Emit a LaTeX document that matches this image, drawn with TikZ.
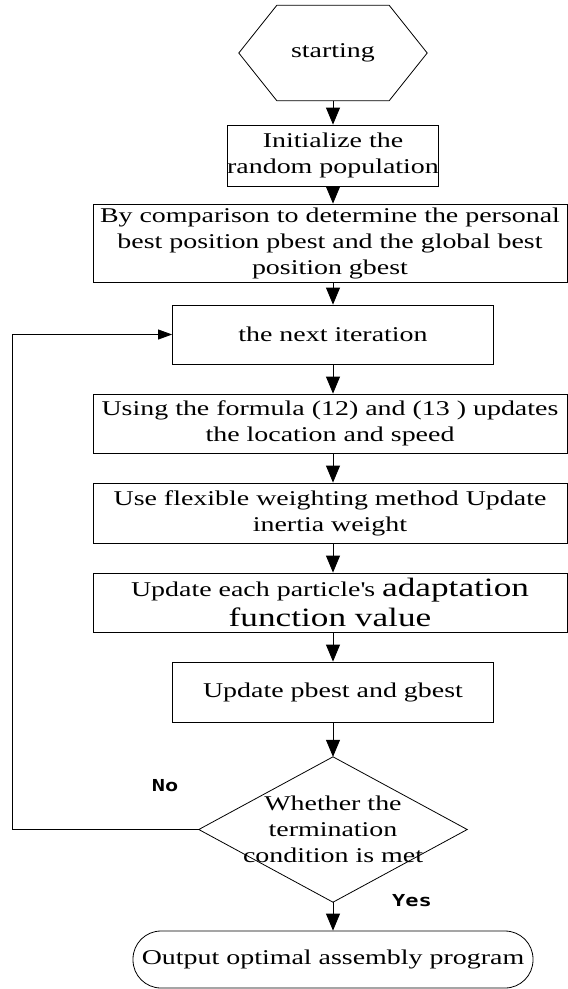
\documentclass[tikz,border=0pt]{standalone}
\usepackage{fontspec}
\setmainfont{Liberation Serif}[FakeStretch=1.33]
\newfontfamily\bigserif{Liberation Serif}[FakeStretch=1.33]
\newfontfamily\labelfont{DejaVu Sans Mono}[FakeStretch=1.33]
\usetikzlibrary{arrows.meta}

\tikzset{
  every node/.style={inner sep=0pt, align=center},
  txt/.style={font=\rmfamily\fontsize{21}{26}\selectfont},
  box/.style={txt, draw, rectangle, line width=0.8pt},
  frame/.style={txt, rectangle},
  edge/.style={line width=0.8pt},
  flow/.style={line width=0.8pt, -{Triangle[length=17pt,width=14pt]}},
  backflow/.style={line width=0.8pt, -{Triangle[length=14pt,width=10pt]}},
  lbl/.style={font=\labelfont\bfseries\fontsize{16.5}{18}\selectfont},
}
% larger serif type used inside the fitness step
\newcommand{\bigtext}[1]{{\bigserif\fontsize{26.5}{30}\selectfont #1}}

\begin{document}
\begin{tikzpicture}[x=1pt, y=-1pt]
  \useasboundingbox (0,0) rectangle (568,989);

  % main column and return line
  \coordinate (col) at (333,0);
  \coordinate (loopx) at (12,0);

  % start hexagon
  \node[frame, minimum width=188, minimum height=95] (start) at (333,53) {starting};
  \draw[edge] (start.west) -- ([xshift=38pt]start.north west) -- ([xshift=-38pt]start.north east)
    -- (start.east) -- ([xshift=-38pt]start.south east) -- ([xshift=38pt]start.south west) -- cycle;

  % process steps
  \node[box, minimum width=158, minimum height=61] (init) at (333,155.5)
    {Initialize the\\random population};
  \node[box, minimum width=474, minimum height=78] (compare) at (330,243)
    {By comparison to determine the personal\\best position pbest and the global best\\position gbest};
  \node[box, minimum width=321, minimum height=59] (iter) at (333,334.5)
    {the next iteration};
  \node[box, minimum width=474, minimum height=59] (formula) at (330,423.5)
    {Using the formula (12) and (13 ) updates\\the location and speed};
  \node[box, minimum width=474, minimum height=60] (weight) at (330,513)
    {Use flexible weighting method Update\\inertia weight};
  \node[box, minimum width=474, minimum height=59] (fitness) at (330,602.5)
    {Update each particle\textquotesingle s \bigtext{adaptation}\\[4pt]\bigtext{function value}};
  \node[box, minimum width=321, minimum height=60] (update) at (333,692)
    {Update pbest and gbest};

  % decision diamond
  \node[frame, minimum width=268, minimum height=145] (decide) at (333,829.5)
    {Whether the\\termination\\condition is met};
  \draw[edge] (decide.north) -- (decide.east) -- (decide.south) -- (decide.west) -- cycle;

  % end terminator
  \node[box, rounded corners=28pt, minimum width=400, minimum height=57] (output) at (333,959.5)
    {Output optimal assembly program};

  % branch labels
  \node[lbl] (no) at (165,786) {No};
  \node[lbl] (yes) at (412,901) {Yes};

  % connectors
  \draw[flow] (start.south) -- (init.north);
  \draw[flow] (init.south) -- (compare.north -| col);
  \draw[flow] (compare.south -| col) -- (iter.north);
  \draw[flow] (iter.south) -- (formula.north -| col);
  \draw[flow] (formula.south -| col) -- (weight.north -| col);
  \draw[flow] (weight.south -| col) -- (fitness.north -| col);
  \draw[flow] (fitness.south -| col) -- (update.north);
  \draw[flow] (update.south) -- (decide.north);
  \draw[flow] (decide.south) -- (output.north);
  \draw[backflow] (decide.west) -- (decide.west -| loopx) |- (iter.west);
\end{tikzpicture}
\end{document}
